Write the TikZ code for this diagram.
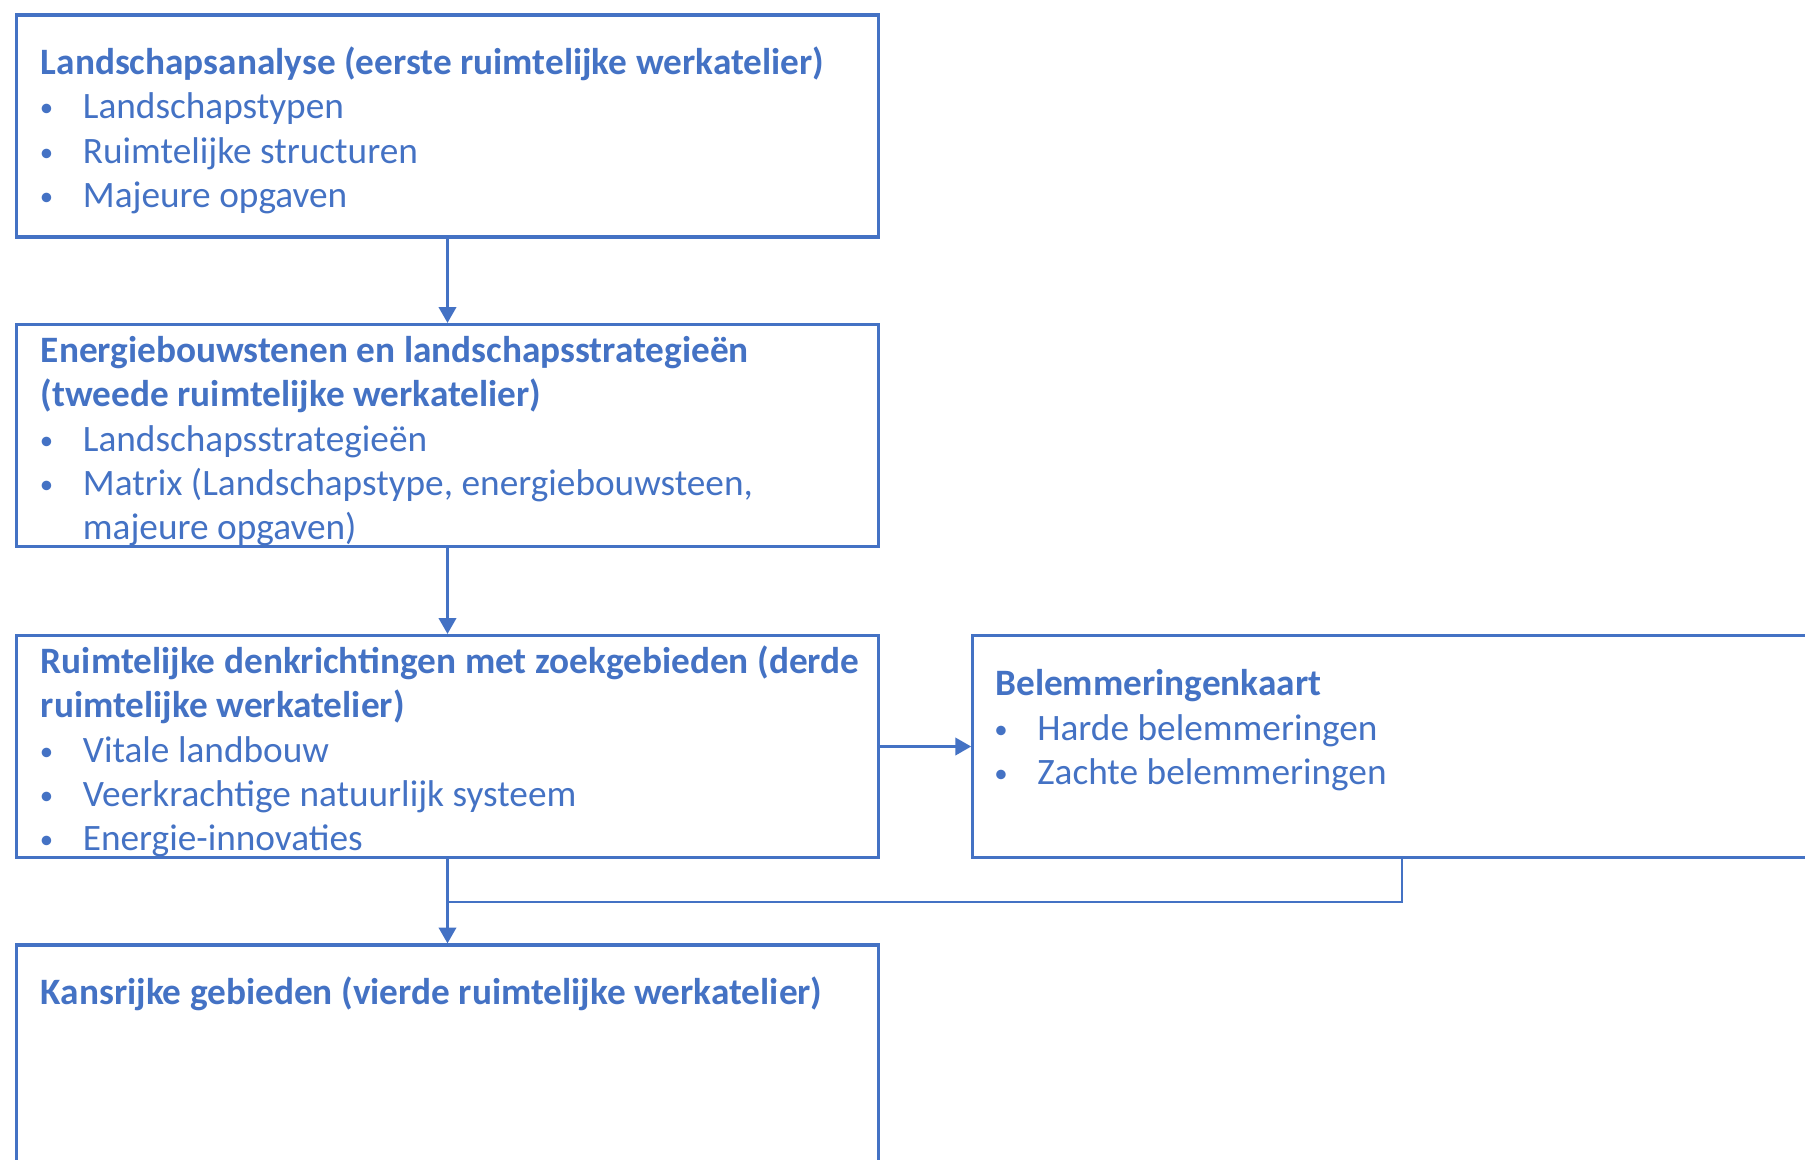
\documentclass[tikz,border=0pt]{standalone}
\usepackage{fontspec}
\setmainfont{Carlito}
\usetikzlibrary{arrows.meta,positioning,calc}
\definecolor{stepblue}{HTML}{4472C4}
\newcommand{\bul}[1]{\\\makebox[0.42cm][l]{\hspace{-0.3pt}\raisebox{0.6pt}{\scalebox{0.72}{•}}}#1}
\newcommand{\bulgap}{\hspace*{0.42cm}}

\tikzset{
	stage/.style={draw=stepblue, line width=0.9pt, minimum width=8.61cm, minimum height=2.22cm, inner sep=0pt},
	stagetext/.style={anchor=base west, inner sep=0pt, text width=8.4cm, align=left, text=stepblue, font=\fontsize{10.6}{12.62}\selectfont, execute at begin node={\spaceskip=0.23em\relax}},
	link/.style={draw=stepblue, line width=0.6pt},
	flow/.style={link, -{Triangle[width=5pt,length=4.5pt]}}
}

\begin{document}
\begin{tikzpicture}[x=0.01cm,y=-0.01cm]
		\useasboundingbox (0,0) rectangle (1805,1160);
		% stages
		\node[stage] (analyse) at (447.5,126) {};
		\node[stage] (bouwsteen) at (447.5,435.5) {};
		\node[stage] (denk) at (447.5,746.5) {};
		\node[stage, minimum height=3cm] (kans) at (447.5,1095) {};
		\node[stage, minimum width=9.3cm] (belem) at (1438,746.5) {};
		% texts
		\node[stagetext] (analysetxt) at ($(analyse.north west)+(25,61)$) {\textbf{Landschapsanalyse (eerste ruimtelijke werkatelier)}\bul{Landschapstypen}\bul{Ruimtelijke structuren}\bul{Majeure opgaven}};
		\node[stagetext] (bouwsteentxt) at ($(bouwsteen.north west)+(25,39.5)$) {\textbf{Energiebouwstenen en landschapsstrategieën\\(tweede ruimtelijke werkatelier)}\bul{Landschapsstrategieën}\bul{Matrix (Landschapstype, energiebouwsteen,}\\\bulgap majeure opgaven)};
		\node[stagetext] (denktxt) at ($(denk.north west)+(25,39.5)$) {\textbf{Ruimtelijke denkrichtingen met zoekgebieden (derde\\ruimtelijke werkatelier)}\bul{Vitale landbouw}\bul{Veerkrachtige natuurlijk systeem}\bul{Energie-innovaties}};
		\node[stagetext] (kanstxt) at ($(kans.north west)+(25,61.5)$) {\textbf{Kansrijke gebieden (vierde ruimtelijke werkatelier)}};
		\node[stagetext] (belemtxt) at ($(belem.north west)+(23.5,62)$) {\textbf{Belemmeringenkaart}\bul{Harde belemmeringen}\bul{Zachte belemmeringen}};
		% connectors
		\coordinate (split) at (1402,858);
		\coordinate (merge) at (449,902);
		\draw[flow] (analyse) -- (bouwsteen);
		\draw[flow] (bouwsteen) -- (denk);
		\draw[flow] (denk) -- (belem);
		\draw[flow] (denk) -- (kans);
		\draw[link] (split) |- (merge);
	\end{tikzpicture}
\end{document}
